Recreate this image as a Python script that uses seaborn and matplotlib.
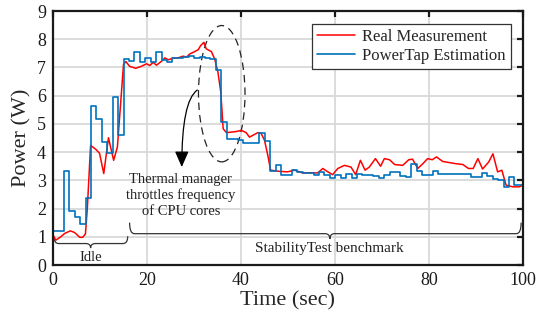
import numpy as np
import pandas as pd
import matplotlib
matplotlib.use("Agg")
import matplotlib.pyplot as plt
import seaborn as sns
from matplotlib.path import Path
from matplotlib.patches import PathPatch, Ellipse

# ---------------- data ----------------
real_time = [0, 0.6, 1.5, 2.5, 3.7, 4.6, 5.7, 6.3, 6.9, 7.3, 8.0, 9.1, 9.9, 10.8, 11.8,
             12.9, 13.7, 15.0, 15.5, 16.3, 17.6, 18.8, 19.9, 20.6, 21.3, 22.0, 23.1,
             23.8, 24.5, 25.6, 26.6, 27.7, 28.4, 29.1, 29.9, 30.9, 31.4, 32.1, 32.6,
             33.7, 34.4, 35.1, 35.7, 36.2, 36.9, 38.0, 39.0, 40.1, 41.1, 41.8, 42.8,
             43.6, 44.3, 45.0, 45.7, 46.3, 48.1, 49.9, 51.4, 53.1, 54.6, 56.3, 57.4,
             58.5, 59.5, 60.6, 62.0, 63.4, 64.4, 65.4, 66.4, 67.3, 68.6, 69.7, 70.5,
             71.6, 72.7, 74.4, 75.7, 76.5, 77.6, 78.7, 79.7, 80.7, 81.6, 82.9, 84.3,
             85.7, 87.2, 88.4, 89.4, 90.4, 91.4, 92.7, 93.6, 94.6, 95.5, 96.4, 97.8,
             99.2, 100]
real_power = [1.06, 0.88, 0.98, 1.12, 1.21, 1.15, 0.98, 0.98, 1.10, 2.00, 4.24, 4.10, 3.96,
              3.24, 4.51, 3.71, 4.18, 7.10, 7.21, 7.04, 6.97, 7.04, 7.13, 7.07, 7.18, 7.08,
              7.22, 7.34, 7.27, 7.33, 7.34, 7.40, 7.36, 7.48, 7.54, 7.63, 7.77, 7.89, 7.66,
              7.56, 7.30, 6.83, 6.12, 4.83, 4.69, 4.71, 4.73, 4.77, 4.69, 4.53, 4.62, 4.69,
              4.66, 4.42, 3.89, 3.36, 3.32, 3.30, 3.36, 3.26, 3.27, 3.26, 3.42, 3.30, 3.20,
              3.42, 3.53, 3.47, 3.20, 3.71, 3.36, 3.47, 3.77, 3.50, 3.77, 3.73, 3.56, 3.53,
              3.73, 3.75, 3.42, 3.59, 3.77, 3.73, 3.83, 3.67, 3.63, 3.59, 3.56, 3.42, 3.42,
              3.77, 3.40, 3.65, 3.94, 3.30, 3.36, 2.83, 2.77, 2.77, 2.83]

est_interval = 1.155  # seconds between PowerTap estimates
est_power = [1.20, 1.20, 3.32, 1.92, 1.71, 1.45, 2.36, 5.63, 5.16, 4.36, 3.97, 5.96, 4.59,
             7.30, 7.24, 7.54, 7.21, 7.34, 7.21, 7.56, 7.27, 7.21, 7.33, 7.34, 7.36, 7.42,
             7.34, 7.36, 7.34, 7.30, 6.91, 5.07, 4.47, 4.47, 4.42, 4.33, 4.33, 4.33, 4.69,
             4.40, 3.32, 3.56, 3.18, 3.20, 3.36, 3.30, 3.26, 3.26, 3.20, 3.30, 3.18, 3.09,
             3.18, 3.09, 3.24, 3.09, 3.24, 3.18, 3.18, 3.14, 3.09, 3.18, 3.30, 3.30, 3.14,
             3.12, 3.59, 3.32, 3.20, 3.20, 3.32, 3.24, 3.24, 3.24, 3.24, 3.24, 3.24, 3.12,
             3.12, 3.26, 3.15, 3.06, 3.00, 2.77, 3.12, 2.85, 2.85]

x_ticks = [0, 20, 40, 60, 80, 100]
y_ticks = [0, 1, 2, 3, 4, 5, 6, 7, 8, 9]
labels = ["Real Measurement", "PowerTap Estimation"]

# ---------------- style ----------------
sns.set_style("whitegrid")
plt.rcParams["font.family"] = ["Liberation Serif", "DejaVu Serif"]

RED = "#ff0000"
BLUE = "#0072bd"

fig = plt.figure(figsize=(5.5, 3.22), dpi=100)
ax = fig.add_axes([53 / 550, 1 - 265 / 322, (523 - 53) / 550, (265 - 11) / 322])

real_df = pd.DataFrame({"t": real_time, "p": real_power})
est_t = list(np.arange(len(est_power)) * est_interval) + [100]
est_df = pd.DataFrame({"t": est_t, "p": est_power + [est_power[-1]]})

sns.lineplot(data=real_df, x="t", y="p", ax=ax, color=RED, lw=1.1, label=labels[0])
sns.lineplot(data=est_df, x="t", y="p", ax=ax, color=BLUE, lw=1.2,
             drawstyle="steps-post", label=labels[1])

ax.set_xlim(0, 100)
ax.set_ylim(0, 9)
ax.set_xticks(x_ticks)
ax.set_yticks(y_ticks)
ax.grid(True, color="#d6d6d6", lw=1.2)
for s in ax.spines.values():
    s.set_color("#1a1a1a")
    s.set_linewidth(1.6)
ax.tick_params(direction="in", length=4, width=1.6, top=True, right=True,
               labelsize=13, colors="#1a1a1a", pad=5)
ax.set_xlabel("Time (sec)", fontsize=16, labelpad=2)
ax.set_ylabel("Power (W)", fontsize=16, labelpad=4)

leg = ax.legend(loc="upper right", fontsize=12, frameon=True, fancybox=False,
                edgecolor="#333333", framealpha=1, borderpad=0.3, labelspacing=0.2,
                handlelength=2.3, handletextpad=0.4, borderaxespad=0.75)
leg.get_frame().set_linewidth(0.9)

# ---------------- annotations ----------------
ax.add_patch(Ellipse((35.9, 6.07), 9.9, 4.83, fill=False, ec="#222222", lw=0.9,
                     ls=(0, (6, 4))))

ax.annotate("", xy=(27.4, 3.47), xytext=(30.7, 6.2),
            arrowprops=dict(arrowstyle="-|>,head_length=0.8,head_width=0.35",
                            connectionstyle="angle3,angleA=35,angleB=90",
                            color="black", lw=0.9, shrinkA=0, shrinkB=0,
                            mutation_scale=12))
ax.text(27.2, 2.47, "Thermal manager\nthrottles frequency\nof CPU cores",
        ha="center", va="center", fontsize=10.5, linespacing=1.25, color="#222222")


def brace(x0, x1, xm, y_line, y_end, y_tip, r):
    verts = [(x0, y_end), (x0, y_line), (x0 + r, y_line), (xm - r, y_line),
             (xm, y_line), (xm, y_tip), (xm, y_line), (xm + r, y_line),
             (x1 - r, y_line), (x1, y_line), (x1, y_end)]
    codes = [Path.MOVETO, Path.CURVE3, Path.CURVE3, Path.LINETO, Path.CURVE3,
             Path.CURVE3, Path.CURVE3, Path.CURVE3, Path.LINETO, Path.CURVE3, Path.CURVE3]
    ax.add_patch(PathPatch(Path(verts, codes), fill=False, ec="#333333", lw=0.9))


brace(0.2, 15.9, 8.0, 0.76, 1.02, 0.6, 1.0)
ax.text(8.0, 0.28, "Idle", ha="center", va="center", fontsize=10.5, color="#222222")
brace(16.3, 99.6, 58.9, 1.11, 1.5, 0.92, 1.0)
ax.text(58.9, 0.6, "StabilityTest benchmark", ha="center", va="center",
        fontsize=11, color="#222222")

fig.savefig("out.png", dpi=100)
